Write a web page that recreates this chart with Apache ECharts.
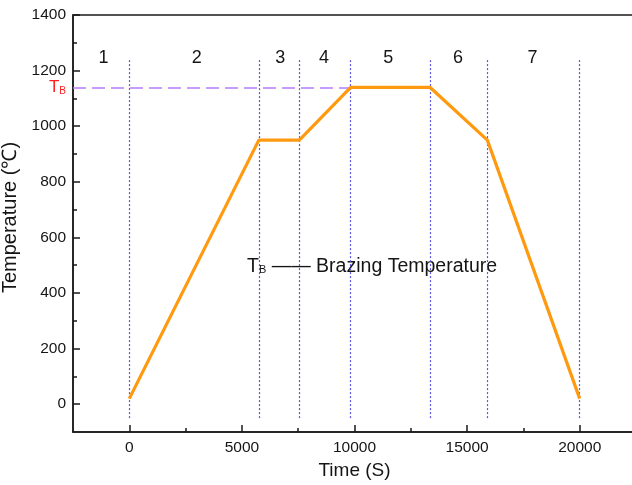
<!DOCTYPE html>
<html>
<head>
<meta charset="utf-8">
<script src="https://cdn.jsdelivr.net/npm/echarts@6/dist/echarts.min.js"></script>
<style>
  html, body { margin: 0; padding: 0; background: #fff; }
  #chart { width: 632px; height: 485px; }
</style>
</head>
<body>
<div id="chart"></div>
<script>
// Brazing thermal cycle: time (s) vs temperature (°C)
const profileTime = [0, 5750, 7550, 9830, 13350, 15900, 20000];
const profileTemp = [20, 950, 950, 1140, 1140, 950, 20];

// Stage boundaries (s) and stage labels
const stageBounds = [0, 5750, 7550, 9830, 13350, 15900, 20000];
const stageNames = ['1', '2', '3', '4', '5', '6', '7'];
const stageLabelX = [-1150, 3000, 6700, 8650, 11500, 14600, 17900];
const stageLabelY = 1245;
const boundLow = -50;
const boundHigh = 1240;

// Brazing temperature
const brazingTemp = 1140;

// Axis ticks
const xLabels = [0, 5000, 10000, 15000, 20000];
const xMinor = [2500, 7500, 12500, 17500, 22500];
const yLabels = [0, 200, 400, 600, 800, 1000, 1200, 1400];
const yMinor = [100, 300, 500, 700, 900, 1100, 1300];

const FONT = 'Liberation Sans, Arial, sans-serif';
const axisColor = '#1a1a1a';
const textColor = '#151515';
const plain = v => String(v);

const chart = echarts.init(document.getElementById('chart'));

const baseX = {
  type: 'value', min: -2500, max: 22500,
  splitLine: { show: false }
};
const baseY = {
  type: 'value', min: -100, max: 1400,
  splitLine: { show: false }
};

chart.setOption({
  animation: false,
  grid: {
    left: 73, top: 15, bottom: 53, right: -4,
    containLabel: false, outerBoundsMode: 'none',
    show: true, borderColor: axisColor, borderWidth: 1.5
  },
  xAxis: [
    Object.assign({}, baseX, {
      name: 'Time (S)', nameLocation: 'middle', nameGap: 28,
      nameTextStyle: { fontFamily: FONT, fontSize: 19, color: textColor },
      axisLine: { show: true, onZero: false, lineStyle: { color: axisColor, width: 1.5 } },
      axisTick: { show: true, inside: true, length: 7, customValues: xLabels,
        lineStyle: { color: axisColor, width: 1.5 } },
      axisLabel: { customValues: xLabels, formatter: plain, fontFamily: FONT, fontSize: 15.5, color: textColor, margin: 8 }
    }),
    Object.assign({}, baseX, {
      position: 'bottom',
      axisLine: { show: false, onZero: false },
      axisTick: { show: true, inside: true, length: 4, customValues: xMinor,
        lineStyle: { color: axisColor, width: 1.5 } },
      axisLabel: { show: false }
    })
  ],
  yAxis: [
    Object.assign({}, baseY, {
      name: 'Temperature (\u2103)', nameLocation: 'middle', nameGap: 6,
      nameTextStyle: { fontFamily: FONT, fontSize: 20, color: textColor, padding: [0, 0, 0, 12] },
      axisLine: { show: true, onZero: false, lineStyle: { color: axisColor, width: 1.5 } },
      axisTick: { show: true, inside: true, length: 7, customValues: yLabels,
        lineStyle: { color: axisColor, width: 1.5 } },
      axisLabel: { customValues: yLabels, formatter: plain, fontFamily: FONT, fontSize: 15.5, color: textColor, margin: 7 }
    }),
    Object.assign({}, baseY, {
      position: 'left',
      axisLine: { show: false, onZero: false },
      axisTick: { show: true, inside: true, length: 4, customValues: yMinor,
        lineStyle: { color: axisColor, width: 1.5 } },
      axisLabel: { show: false }
    })
  ],
  series: [
    {
      // stage boundaries and brazing temperature reference
      type: 'line', data: [], silent: true,
      markLine: {
        symbol: 'none', silent: true, animation: false,
        data: stageBounds.map(t => [
          { coord: [t, boundLow], lineStyle: { color: '#5a55d8', width: 1.2, type: [2, 2] }, label: { show: false } },
          { coord: [t, boundHigh] }
        ]).concat([[
          { coord: [-2500, brazingTemp],
            lineStyle: { color: '#b57cff', width: 1.5, type: [13, 6] },
            label: {
              show: true, position: 'start', distance: 7,
              formatter: 'T{s|B}',
              color: '#ff2020', fontFamily: FONT, fontSize: 17,
              rich: { s: { fontSize: 10, color: '#ff2020', fontFamily: FONT, padding: [7, 0, 0, 0] } }
            } },
          { coord: [profileTime[3], brazingTemp] }
        ]])
      }
    },
    {
      type: 'line',
      data: profileTime.map((t, i) => [t, profileTemp[i]]),
      symbol: 'none',
      lineStyle: { color: '#ff9a10', width: 3.2 },
      z: 5
    },
    {
      // stage numbers
      type: 'scatter', symbolSize: 0, silent: true,
      itemStyle: { opacity: 1 },
      data: stageLabelX.map((x, i) => ({ value: [x, stageLabelY], name: stageNames[i] })),
      label: {
        show: true, position: 'inside', formatter: p => p.name,
        fontFamily: FONT, fontSize: 18, color: textColor, textBorderWidth: 0
      }
    },
    {
      // legend-style annotation
      type: 'scatter', symbolSize: 0, silent: true,
      itemStyle: { opacity: 1 },
      data: [{ value: [10780, 496] }],
      label: {
        show: true, position: 'inside',
        formatter: 'T{s|B} \u2014\u2014 Brazing Temperature',
        fontFamily: FONT, fontSize: 19.5, color: textColor, textBorderWidth: 0,
        rich: { s: { fontSize: 11, color: textColor, fontFamily: FONT, padding: [7, 0, 0, 0] } }
      }
    }
  ]
});
</script>
</body>
</html>
